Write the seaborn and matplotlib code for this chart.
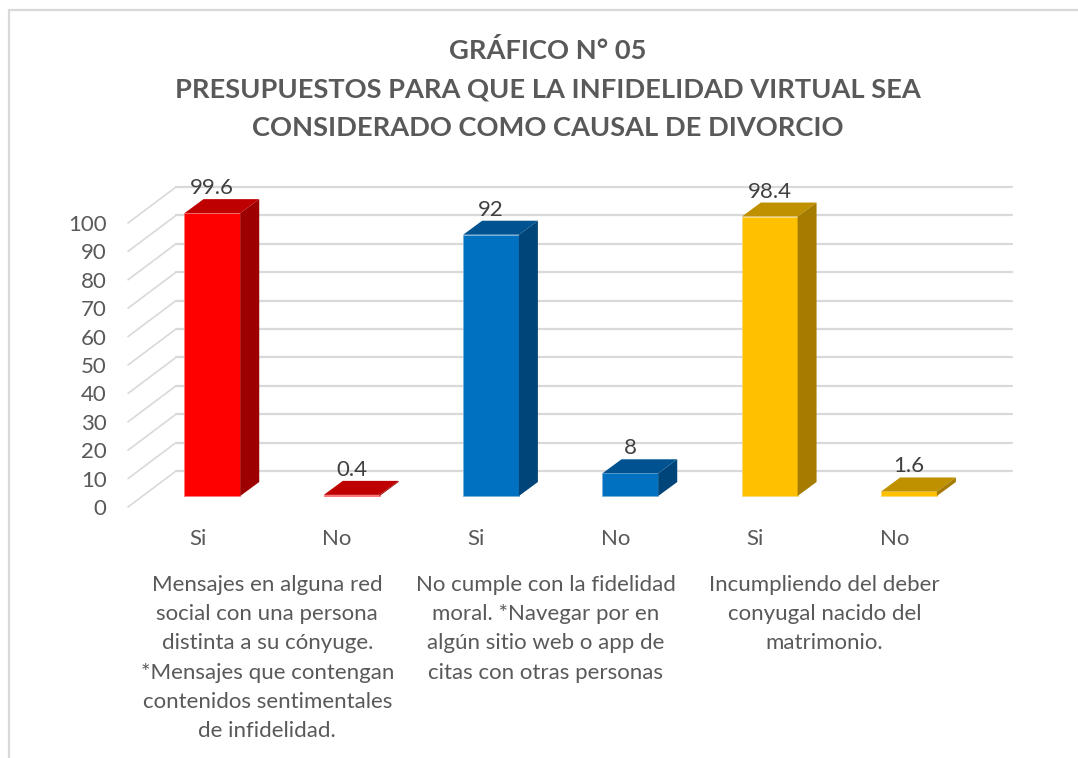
import numpy as np
import pandas as pd
import seaborn as sns
import matplotlib.pyplot as plt
from matplotlib.lines import Line2D
from matplotlib.patches import Polygon

# Data
categories = ['Si', 'No', 'Si ', 'No ', 'Si  ', 'No  ']
tick_labels = ['Si', 'No', 'Si', 'No', 'Si', 'No']
values = [99.6, 0.4, 92, 8, 98.4, 1.6]
y_ticks = [0, 10, 20, 30, 40, 50, 60, 70, 80, 90, 100]
group_labels = [
    'Mensajes en alguna red\nsocial con una persona\ndistinta a su cónyuge.\n*Mensajes que contengan\ncontenidos sentimentales\nde infidelidad.',
    'No cumple con la fidelidad\nmoral. *Navegar por en\nalgún sitio web o app de\ncitas con otras personas',
    'Incumpliendo del deber\nconyugal nacido del\nmatrimonio.',
]
title = 'GRÁFICO N° 05\nPRESUPUESTOS PARA QUE LA INFIDELIDAD VIRTUAL SEA\nCONSIDERADO COMO CAUSAL DE DIVORCIO'

# Colours: front, top, side
front_colors = ['#FF0000', '#FF0000', '#0070C0', '#0070C0', '#FFC000', '#FFC000']
top_colors = ['#BE0000', '#BE0000', '#005390', '#005390', '#BF9000', '#BF9000']
side_colors = ['#9C0000', '#9C0000', '#00457A', '#00457A', '#A67C00', '#A67C00']

W, H = 1078, 758

sns.set_theme(style='white')
plt.rcParams['font.family'] = ['Lato', 'DejaVu Sans']


def box(left, right, bottom, top):
    # pixel box (from top left of the picture) to figure fractions
    return [left / W, 1 - bottom / H, (right - left) / W, (bottom - top) / H]


fig = plt.figure(figsize=(W / 100, H / 100), dpi=100)
fig.patch.set_facecolor('white')

# Chart frame: only the top and left edges are inside the picture
fig.add_artist(Line2D([8.5 / W, 8.5 / W, 1], [0, 1 - 9.5 / H, 1 - 9.5 / H], transform=fig.transFigure,
                      color='#D9D9D9', linewidth=1.6))

# The three planes of the 3D look: back wall, bars, front of the floor
ax_back = fig.add_axes(box(176, 1012, 471, 187))
ax_bars = fig.add_axes(box(142.7, 978.7, 496, 212))
ax_front = fig.add_axes(box(128, 964, 507, 223))

for a in [ax_back, ax_bars, ax_front]:
    a.set_xlim(-0.5, 5.5)
    a.set_ylim(0, 100)
    a.patch.set_alpha(0)
    for s in a.spines.values():
        s.set_visible(False)

# Back wall gridlines
ax_back.set_yticks(y_ticks)
ax_back.set_xticks([])
ax_back.tick_params(left=False, labelleft=False)
ax_back.yaxis.grid(True, color='#D9D9D9', linewidth=1.6, clip_on=False)
ax_back.set_axisbelow(True)

# Diagonal lines on the left wall
for v in y_ticks:
    p0 = ax_front.transData.transform((-0.5, v))
    p1 = ax_back.transData.transform((-0.5, v))
    p0 = fig.transFigure.inverted().transform(p0)
    p1 = fig.transFigure.inverted().transform(p1)
    fig.add_artist(Line2D([p0[0], p1[0]], [p0[1], p1[1]], transform=fig.transFigure,
                          color='#D9D9D9', linewidth=1.2, zorder=1))

# Bars
df = pd.DataFrame({'cat': categories, 'val': values})
sns.barplot(data=df, x='cat', y='val', hue='cat', palette=front_colors, dodge=False, legend=False,
            width=0.4, saturation=1, ax=ax_bars, zorder=3, clip_on=False)
ax_bars.set_xlim(-0.5, 5.5)
ax_bars.set_ylim(0, 100)
ax_bars.set_xlabel('')
ax_bars.set_ylabel('')
ax_bars.set_xticks([])
ax_bars.set_yticks([])

# Depth of a bar, in data units of the axes
depth_x = 19 / (836 / 6)
depth_y = 14 / 2.84

bars = [p for p in ax_bars.patches if p.get_height() > 0]
bars = sorted(bars, key=lambda p: p.get_x())
for i, bar in enumerate(bars):
    x0 = bar.get_x()
    x1 = x0 + bar.get_width()
    h = bar.get_height()
    bar.set_edgecolor(sns.light_palette(front_colors[i], 3)[1])
    bar.set_linewidth(0.6)
    top = Polygon([(x0, h), (x1, h), (x1 + depth_x, h + depth_y), (x0 + depth_x, h + depth_y)],
                  facecolor=top_colors[i], edgecolor='none', clip_on=False, zorder=4)
    side = Polygon([(x1, 0), (x1 + depth_x, depth_y), (x1 + depth_x, h + depth_y), (x1, h)],
                   facecolor=side_colors[i], edgecolor='none', clip_on=False, zorder=4)
    ax_bars.add_patch(top)
    ax_bars.add_patch(side)
    ax_bars.annotate(f'{values[i]:g}', (x0 + bar.get_width() / 2, h), xytext=(0, 18), textcoords='offset points',
                     ha='center', va='center', fontsize=16, color='#404040', annotation_clip=False, zorder=5)

# Tick labels sit on the front plane
ax_front.set_yticks(y_ticks)
ax_front.set_yticklabels(y_ticks)
ax_front.set_xticks(range(len(tick_labels)))
ax_front.set_xticklabels(tick_labels)
ax_front.tick_params(axis='y', left=False, labelsize=16, labelcolor='#595959', pad=9.5)
ax_front.tick_params(axis='x', bottom=False, labelsize=16, labelcolor='#595959', pad=10)

# Group labels under the Si/No pairs
for i, label in enumerate(group_labels):
    ax_front.text(2 * i + 0.5, -0.238, label, transform=ax_front.get_xaxis_transform(), ha='center', va='top',
                  fontsize=16, color='#595959', linespacing=1.585)

fig.text(548 / W, 1 - 38 / H, title, ha='center', va='top', fontsize=19.6, fontweight='bold',
         color='#595959', linespacing=1.72)

fig.savefig('out.png', dpi=100)
